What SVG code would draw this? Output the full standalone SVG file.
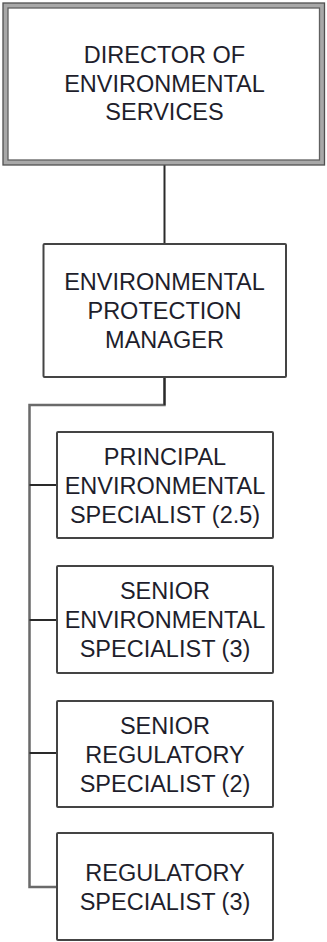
<svg xmlns="http://www.w3.org/2000/svg" width="327" height="942" viewBox="0 0 327 942">
<style>
.box{fill:#fff;stroke:#444;stroke-width:2}
.t{font-family:"Liberation Sans",Arial,sans-serif;font-size:23.5px;fill:#1e1e2c;text-anchor:middle}
.c{fill:none;stroke:#2a2a2a;stroke-width:2}
.trunk{fill:none;stroke:#6a6a6a;stroke-width:2.5}
</style>
<rect width="327" height="942" fill="#fff"/>
<g id="connectors">
<line class="c" x1="164.5" y1="165" x2="164.5" y2="244"/>
<polyline class="trunk" points="164.5,377 164.5,405 29.5,405 29.5,887 57,887"/>
<line class="c" x1="164.5" y1="377" x2="164.5" y2="405"/>
<line class="c" x1="29.5" y1="485" x2="57" y2="485"/>
<line class="c" x1="29.5" y1="620" x2="57" y2="620"/>
<line class="c" x1="29.5" y1="753" x2="57" y2="753"/>
</g>
<g id="director">
<rect x="5.5" y="5.5" width="316.5" height="157" fill="#fff" stroke="#a8a8a8" stroke-width="5"/>
<rect x="3" y="3" width="321.5" height="162" fill="none" stroke="#505050" stroke-width="1.3"/>
<rect x="8" y="8" width="311.5" height="152" fill="none" stroke="#606060" stroke-width="1.3"/>
<text class="t" x="164.5" y="63">DIRECTOR OF</text>
<text class="t" x="164.5" y="91.5">ENVIRONMENTAL</text>
<text class="t" x="164.5" y="119.5">SERVICES</text>
</g>
<g id="manager">
<rect class="box" x="43.5" y="244" width="242.5" height="133" rx="1"/>
<text class="t" x="164.5" y="290">ENVIRONMENTAL</text>
<text class="t" x="164.5" y="319">PROTECTION</text>
<text class="t" x="164.5" y="348">MANAGER</text>
</g>
<g id="principal">
<rect class="box" x="57" y="432" width="216" height="106" rx="1"/>
<text class="t" x="165" y="465">PRINCIPAL</text>
<text class="t" x="165" y="494">ENVIRONMENTAL</text>
<text class="t" x="165" y="523">SPECIALIST (2.5)</text>
</g>
<g id="senior-env">
<rect class="box" x="57" y="566" width="216" height="107" rx="1"/>
<text class="t" x="165" y="599">SENIOR</text>
<text class="t" x="165" y="628">ENVIRONMENTAL</text>
<text class="t" x="165" y="657">SPECIALIST (3)</text>
</g>
<g id="senior-reg">
<rect class="box" x="57" y="701" width="216" height="106" rx="1"/>
<text class="t" x="165" y="734">SENIOR</text>
<text class="t" x="165" y="763">REGULATORY</text>
<text class="t" x="165" y="792">SPECIALIST (2)</text>
</g>
<g id="regulatory">
<rect class="box" x="57" y="833" width="216" height="107" rx="1"/>
<text class="t" x="165" y="880.5">REGULATORY</text>
<text class="t" x="165" y="909.5">SPECIALIST (3)</text>
</g>
</svg>
